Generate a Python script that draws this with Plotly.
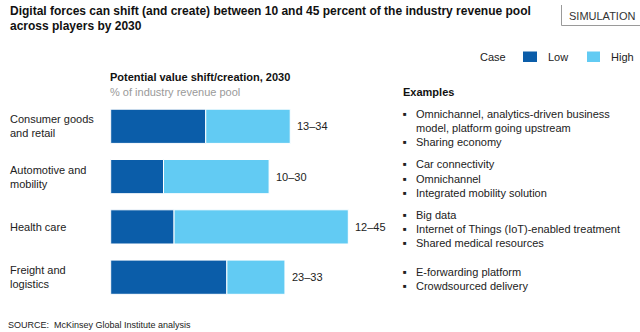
import plotly.graph_objects as go

categories = ["Consumer goods<br>and retail", "Automotive and<br>mobility", "Health care", "Freight and<br>logistics"]
low_values = [18, 10, 12, 22]      # bar length of the dark (Low) segment as drawn
high_values = [34, 30, 45, 33]     # bar end of the light (High) segment as drawn
range_labels = ["13–34", "10–30", "12–45", "23–33"]
examples = [
    ["Omnichannel, analytics-driven business<br>model, platform going upstream", "Sharing economy"],
    ["Car connectivity", "Omnichannel", "Integrated mobility solution"],
    ["Big data", "Internet of Things (IoT)-enabled treatment", "Shared medical resources"],
    ["E-forwarding platform", "Crowdsourced delivery"],
]

DARK = "#0B5DA9"
LIGHT = "#62CBF3"
FONT = "Liberation Sans, Arial, sans-serif"
W, H = 640, 332

ypos = list(range(len(categories)))

fig = go.Figure()
fig.add_trace(go.Bar(
    y=ypos, x=low_values, base=[0] * len(low_values), orientation="h",
    marker=dict(color=DARK, line=dict(color="white", width=1)), name="Low",
    hoverinfo="skip"))
fig.add_trace(go.Bar(
    y=ypos, x=[h - l for h, l in zip(high_values, low_values)], base=low_values,
    orientation="h", marker=dict(color=LIGHT, line=dict(color="white", width=1)),
    name="High", hoverinfo="skip"))

def py(p):
    return 1 - p / H

def px(p):
    return p / W

ann = []
# titles
ann.append(dict(text="<b>Digital forces can shift (and create) between 10 and 45 percent of the industry revenue pool</b>",
                x=px(8), y=py(11.5), xanchor="left", yanchor="middle", font=dict(size=12, color="#111")))
ann.append(dict(text="<b>across players by 2030</b>",
                x=px(8), y=py(26), xanchor="left", yanchor="middle", font=dict(size=12, color="#111")))
ann.append(dict(text="SIMULATION", x=px(567), y=py(15.5), xanchor="left", yanchor="middle",
                font=dict(size=11, color="#333")))
# legend
ann.append(dict(text="Case", x=px(478), y=py(56.5), xanchor="left", yanchor="middle", font=dict(size=11, color="#222")))
ann.append(dict(text="Low", x=px(546), y=py(56.5), xanchor="left", yanchor="middle", font=dict(size=11, color="#222")))
ann.append(dict(text="High", x=px(609), y=py(56.5), xanchor="left", yanchor="middle", font=dict(size=11, color="#222")))
# chart header
ann.append(dict(text="<b>Potential value shift/creation, 2030</b>", x=px(108), y=py(76.5), xanchor="left",
                yanchor="middle", font=dict(size=11, color="#111")))
ann.append(dict(text="% of industry revenue pool", x=px(108), y=py(91.5), xanchor="left",
                yanchor="middle", font=dict(size=11, color="#9a9a9a")))
ann.append(dict(text="<b>Examples</b>", x=px(401), y=py(91.5), xanchor="left",
                yanchor="middle", font=dict(size=11, color="#111")))
ann.append(dict(text="SOURCE:  McKinsey Global Institute analysis", x=px(6), y=py(325), xanchor="left",
                yanchor="middle", font=dict(size=9, color="#222")))

# category labels and range labels
for i, (c, h, r) in enumerate(zip(categories, high_values, range_labels)):
    ann.append(dict(text=c, xref="paper", yref="y", x=px(8), y=i, xanchor="left", yanchor="middle",
                    align="left", font=dict(size=11, color="#222")))
    ann.append(dict(text=r, xref="x", yref="y", x=h, y=i, xanchor="left", yanchor="middle",
                    xshift=5, font=dict(size=11, color="#222")))

# examples
group_first_line = [113.5, 164.5, 215, 271.5]
line_h = 14
for g, items in enumerate(examples):
    yy = group_first_line[g]
    for it in items:
        for li, line in enumerate(it.split("<br>")):
            if li == 0:
                ann.append(dict(text="■", x=px(405), y=py(yy), xanchor="center", yanchor="middle",
                                font=dict(size=6, color="#222")))
            ann.append(dict(text=line, x=px(414), y=py(yy), xanchor="left", yanchor="middle",
                            font=dict(size=11, color="#222")))
            yy += line_h

for a in ann:
    a.setdefault("xref", "paper")
    a.setdefault("yref", "paper")
    a["showarrow"] = False

shapes = [
    dict(type="line", xref="paper", yref="paper", x0=px(561.5), x1=px(561.5), y0=py(5), y1=py(25.5),
         line=dict(color="#9a9a9a", width=1)),
    dict(type="line", xref="paper", yref="paper", x0=px(561.5), x1=px(640), y0=py(25.5), y1=py(25.5),
         line=dict(color="#9a9a9a", width=1)),
    dict(type="rect", xref="paper", yref="paper", x0=px(523), x1=px(537), y0=py(51.5), y1=py(62),
         fillcolor=DARK, line=dict(width=0)),
    dict(type="rect", xref="paper", yref="paper", x0=px(587), x1=px(600), y0=py(51.5), y1=py(62),
         fillcolor=LIGHT, line=dict(width=0)),
]

x0_px = 110.7
unit = 5.28
fig.update_layout(
    width=W, height=H,
    margin=dict(l=0, r=0, t=0, b=0),
    paper_bgcolor="white", plot_bgcolor="white",
    barmode="overlay", bargap=0.32,
    showlegend=False,
    font=dict(family=FONT, size=11, color="#222"),
    xaxis=dict(domain=[px(x0_px), 1], range=[0, (W - x0_px) / unit], visible=False, fixedrange=True),
    yaxis=dict(domain=[py(302.35), py(101.15)], range=[3.5, -0.5], visible=False, fixedrange=True),
    annotations=ann, shapes=shapes,
)

fig.write_html("out.html", config={"displayModeBar": False})
